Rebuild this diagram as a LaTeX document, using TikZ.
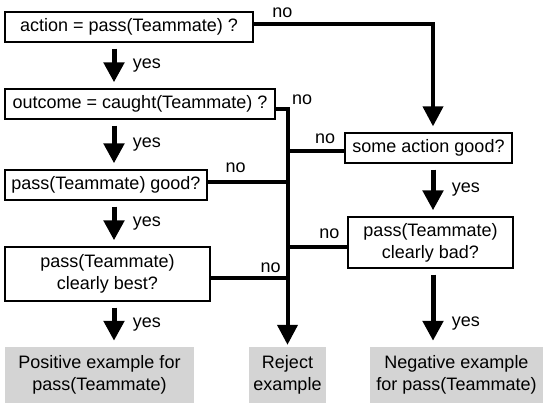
\documentclass[tikz,border=0pt]{standalone}
\usepackage{fontspec}
\setmainfont{Liberation Sans}
\usetikzlibrary{arrows.meta}
\tikzset{>={Triangle[width=20pt,length=20pt]},
  qbox/.style={draw, line width=1.3pt, inner sep=0pt, align=center},
  outbox/.style={fill=black!17, inner sep=0pt, align=center, minimum height=56pt},
  yesarrow/.style={->, line width=5pt, shorten <=6pt, shorten >=6pt},
  noline/.style={line width=4pt},
  lbl/.style={font=\fontsize{18}{22}\selectfont}}

\begin{document}
\begin{tikzpicture}[x=1pt,y=-1pt,font=\fontsize{18}{22}\selectfont]
\useasboundingbox (0,0) rectangle (545,403);
\node[qbox, minimum width=248pt, minimum height=30pt] (act) at (129,27) {action = pass(Teammate) ?};
\node[qbox, minimum width=270pt, minimum height=30pt] (out) at (140,104) {outcome = caught(Teammate) ?};
\node[qbox, minimum width=202pt, minimum height=30pt] (good) at (106,185) {pass(Teammate) good?};
\node[qbox, minimum width=205pt, minimum height=54pt] (best) at (107.5,274) {pass(Teammate)\\clearly best?};
\node[qbox, minimum width=167pt, minimum height=30pt] (some) at (428.5,148) {some action good?};
\node[qbox, minimum width=165pt, minimum height=51pt] (bad) at (430.5,242.5) {pass(Teammate)\\clearly bad?};
\node[outbox, minimum width=189pt] (pos) at (99.5,375) {Positive example for\\pass(Teammate)};
\node[outbox, minimum width=77pt] (rej) at (287.5,375) {Reject\\example};
\node[outbox, minimum width=173pt] (neg) at (456.5,375) {Negative example\\for pass(Teammate)};
\coordinate (lcol) at (114,0);
\coordinate (rcol) at (433,0);
\coordinate (spine) at (287.5,0);

\draw[yesarrow] (lcol |- act.south) -- node[right=13pt, lbl] {yes} (lcol |- out.north);
\draw[yesarrow] (lcol |- out.south) -- node[right=13pt, lbl] {yes} (lcol |- good.north);
\draw[yesarrow] (lcol |- good.south) -- node[right=13pt, lbl] {yes} (lcol |- best.north);
\draw[yesarrow] (lcol |- best.south) -- node[right=13pt, lbl] {yes} (lcol |- pos.north);
\draw[yesarrow] (rcol |- some.south) -- node[right=13pt, lbl] {yes} (rcol |- bad.north);
\draw[yesarrow] (rcol |- bad.south) -- node[right=13pt, lbl, pos=0.7] {yes} (rcol |- neg.north);

\draw[noline, ->, shorten >=6pt] ([yshift=3pt]act.east) -- node[above, lbl, pos=0.16, yshift=1pt] {no} ([yshift=3pt]act.east -| rcol) -- (rcol |- some.north);
\draw[noline, ->, shorten >=2pt] ([yshift=-5pt]out.east) -- ([yshift=-5pt]out.east -| spine) -- (spine |- rej.north);
\node[lbl, anchor=west] at ([xshift=13pt, yshift=4pt]out.east) {no};
\draw[noline] ([yshift=3pt]good.east) -- node[above, lbl, pos=0.35, yshift=4pt] {no} ([yshift=3pt]good.east -| spine);
\draw[noline] ([yshift=-4pt]best.east) -- node[above, lbl, pos=0.78] {no} ([yshift=-4pt]best.east -| spine);
\draw[noline] ([yshift=-3pt]some.west) -- node[above, lbl, pos=0.34, yshift=2pt] {no} ([yshift=-3pt]some.west -| spine);
\draw[noline] ([yshift=-4pt]bad.west) -- node[above, lbl, pos=0.3, yshift=2pt] {no} ([yshift=-4pt]bad.west -| spine);
\end{tikzpicture}
\end{document}
